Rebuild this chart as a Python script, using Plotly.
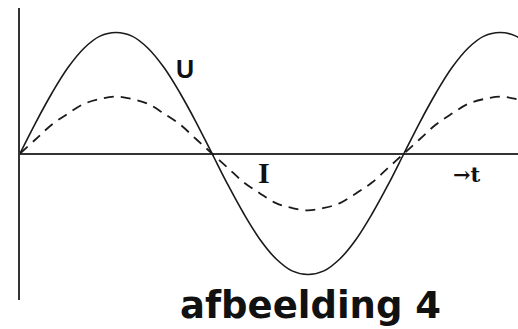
import plotly.graph_objects as go

# phase in degrees
phase = [0, 15, 30, 45, 60, 75, 90, 105, 120, 135, 150, 165, 180, 195, 210, 225, 240, 255, 270,
         285, 300, 315, 330, 345, 360, 375, 390, 405, 420, 435, 450, 465, 480]
# voltage U (relative)
U_vals = [0, 0.26, 0.5, 0.71, 0.87, 0.97, 1.0, 0.97, 0.87, 0.71, 0.5, 0.26, 0, -0.26, -0.5, -0.71,
          -0.87, -0.97, -1.0, -0.97, -0.87, -0.71, -0.5, -0.26, 0, 0.26, 0.5, 0.71, 0.87, 0.97, 1.0, 0.97, 0.87]
# current I (relative)
I_vals = [0, 0.12, 0.24, 0.33, 0.41, 0.45, 0.47, 0.45, 0.41, 0.33, 0.24, 0.12, 0, -0.12, -0.24, -0.33,
          -0.41, -0.45, -0.47, -0.45, -0.41, -0.33, -0.24, -0.12, 0, 0.12, 0.24, 0.33, 0.41, 0.45, 0.47, 0.45, 0.41]

labels = {"U": (155, 0.70), "I": (229, -0.16), "→t": (419, -0.17)}
title_text = "afbeelding 4"

fig = go.Figure()
fig.add_trace(go.Scatter(x=phase, y=U_vals, mode="lines", line=dict(color="#1a1a1a", width=1.6, shape="spline"),
                         hoverinfo="skip"))
fig.add_trace(go.Scatter(x=phase, y=I_vals, mode="lines",
                         line=dict(color="#1a1a1a", width=1.8, shape="spline", dash="10px,7px"),
                         hoverinfo="skip"))

fig.add_annotation(x=labels["U"][0], y=labels["U"][1], text="<b>U</b>", showarrow=False,
                   font=dict(family="Liberation Sans, Arial", size=25, color="#111"))
fig.add_annotation(x=labels["I"][0], y=labels["I"][1], text="<b>I</b>", showarrow=False,
                   font=dict(family="Liberation Serif, serif", size=30, color="#111"))
fig.add_annotation(x=labels["→t"][0], y=labels["→t"][1], text="<b>→t</b>", showarrow=False,
                   font=dict(family="DejaVu Serif, serif", size=21, color="#111"))
fig.add_annotation(x=0.584, y=-0.02, xref="paper", yref="paper", text="<b>" + title_text + "</b>",
                   showarrow=False, yanchor="middle",
                   font=dict(family="DejaVu Sans", size=37, color="#111"))

fig.update_layout(
    width=518, height=329,
    margin=dict(l=20, r=0, t=8, b=29),
    paper_bgcolor="white", plot_bgcolor="white",
    showlegend=False,
    xaxis=dict(range=[0, 466.9], showgrid=False, zeroline=False, showline=False,
               showticklabels=False, ticks=""),
    yaxis=dict(range=[-1.2107, 1.2025], showgrid=False, zeroline=True, zerolinecolor="#333",
               zerolinewidth=2, showline=True, linecolor="#333", linewidth=2,
               showticklabels=False, ticks=""),
)

fig.write_html("out.html", config={"displayModeBar": False},
               post_script="document.body.style.margin='0';document.body.style.overflow='hidden';")
